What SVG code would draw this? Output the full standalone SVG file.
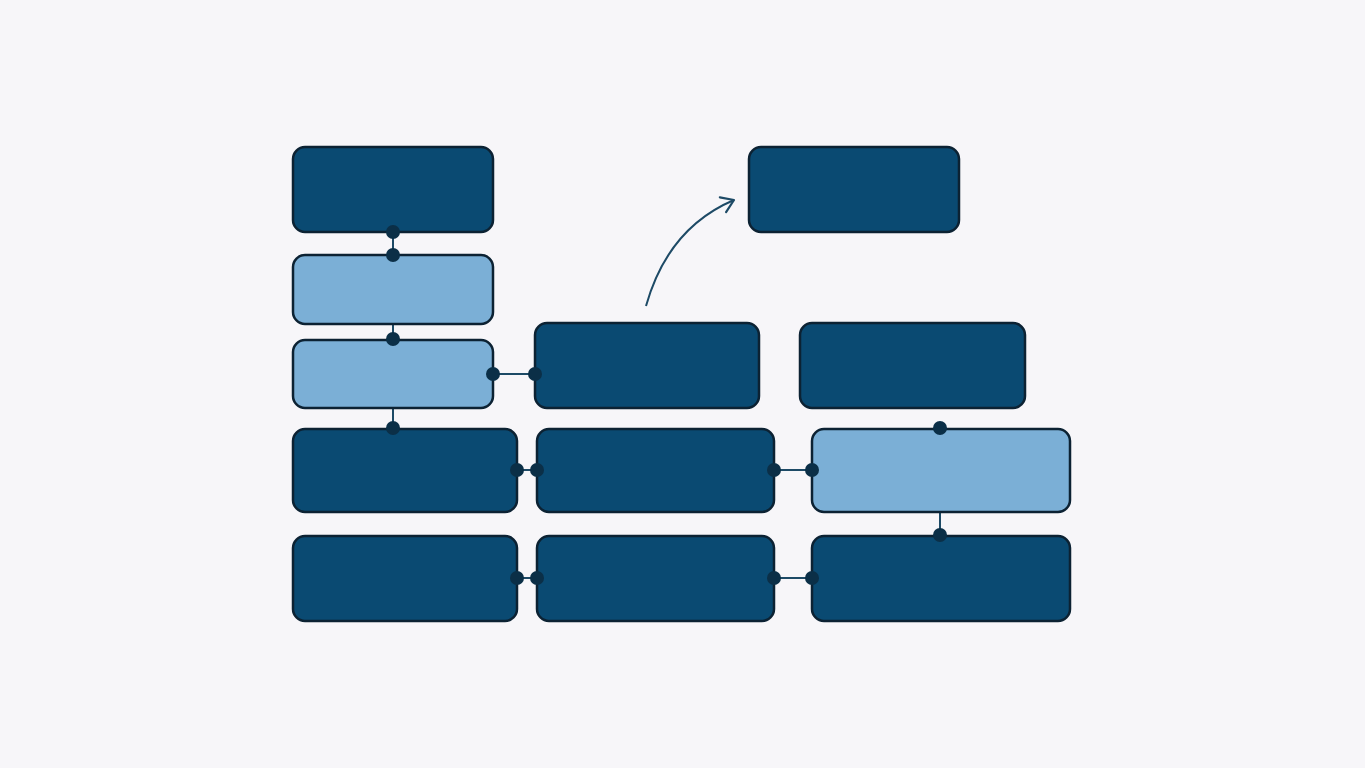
<svg xmlns="http://www.w3.org/2000/svg" width="1365" height="768" viewBox="0 0 1365 768">
<style>
.d{fill:#0a4a72;stroke:#0c2233;stroke-width:2.5}
.l{fill:#7bafd6;stroke:#0c2233;stroke-width:2.5}
.c{stroke:#1d4a66;stroke-width:2;fill:none}
.p{fill:#0b2f47}
</style>
<defs>
<marker id="ah" markerWidth="20" markerHeight="20" refX="16" refY="10" orient="auto" markerUnits="userSpaceOnUse">
<path d="M4,2 L16,10 L4,18" fill="none" stroke="#1d4a66" stroke-width="2.2" stroke-linecap="round" stroke-linejoin="round"/>
</marker>
</defs>
<rect width="1365" height="768" fill="#f7f6f9"/>
<g id="connectors">
<line class="c" x1="393" y1="232" x2="393" y2="255"/>
<line class="c" x1="393" y1="324" x2="393" y2="339"/>
<line class="c" x1="393" y1="408" x2="393" y2="428"/>
<line class="c" x1="493" y1="374" x2="535" y2="374"/>
<line class="c" x1="517" y1="470" x2="537" y2="470"/>
<line class="c" x1="774" y1="470" x2="812" y2="470"/>
<line class="c" x1="940" y1="512" x2="940" y2="535"/>
<line class="c" x1="517" y1="578" x2="537" y2="578"/>
<line class="c" x1="774" y1="578" x2="812" y2="578"/>
<path class="c" d="M646,306 Q668,228 734,200" marker-end="url(#ah)"/>
</g>
<g id="n1"><rect class="d" x="293" y="147" width="200" height="85" rx="12"/></g>
<g id="n2"><rect class="l" x="293" y="255" width="200" height="69" rx="12"/></g>
<g id="n3"><rect class="l" x="293" y="340" width="200" height="68" rx="12"/></g>
<g id="n4"><rect class="d" x="535" y="323" width="224" height="85" rx="12"/></g>
<g id="n5"><rect class="d" x="800" y="323" width="225" height="85" rx="12"/></g>
<g id="n6"><rect class="d" x="749" y="147" width="210" height="85" rx="12"/></g>
<g id="n7"><rect class="d" x="293" y="429" width="224" height="83" rx="12"/></g>
<g id="n8"><rect class="d" x="537" y="429" width="237" height="83" rx="12"/></g>
<g id="n9"><rect class="l" x="812" y="429" width="258" height="83" rx="12"/></g>
<g id="n10"><rect class="d" x="293" y="536" width="224" height="85" rx="12"/></g>
<g id="n11"><rect class="d" x="537" y="536" width="237" height="85" rx="12"/></g>
<g id="n12"><rect class="d" x="812" y="536" width="258" height="85" rx="12"/></g>
<g id="ports">
<circle class="p" cx="393" cy="232" r="7"/>
<circle class="p" cx="393" cy="255" r="7"/>
<circle class="p" cx="393" cy="339" r="7"/>
<circle class="p" cx="493" cy="374" r="7"/>
<circle class="p" cx="535" cy="374" r="7"/>
<circle class="p" cx="393" cy="428" r="7"/>
<circle class="p" cx="517" cy="470" r="7"/>
<circle class="p" cx="537" cy="470" r="7"/>
<circle class="p" cx="774" cy="470" r="7"/>
<circle class="p" cx="812" cy="470" r="7"/>
<circle class="p" cx="940" cy="428" r="7"/>
<circle class="p" cx="940" cy="535" r="7"/>
<circle class="p" cx="517" cy="578" r="7"/>
<circle class="p" cx="537" cy="578" r="7"/>
<circle class="p" cx="774" cy="578" r="7"/>
<circle class="p" cx="812" cy="578" r="7"/>
</g>
</svg>
